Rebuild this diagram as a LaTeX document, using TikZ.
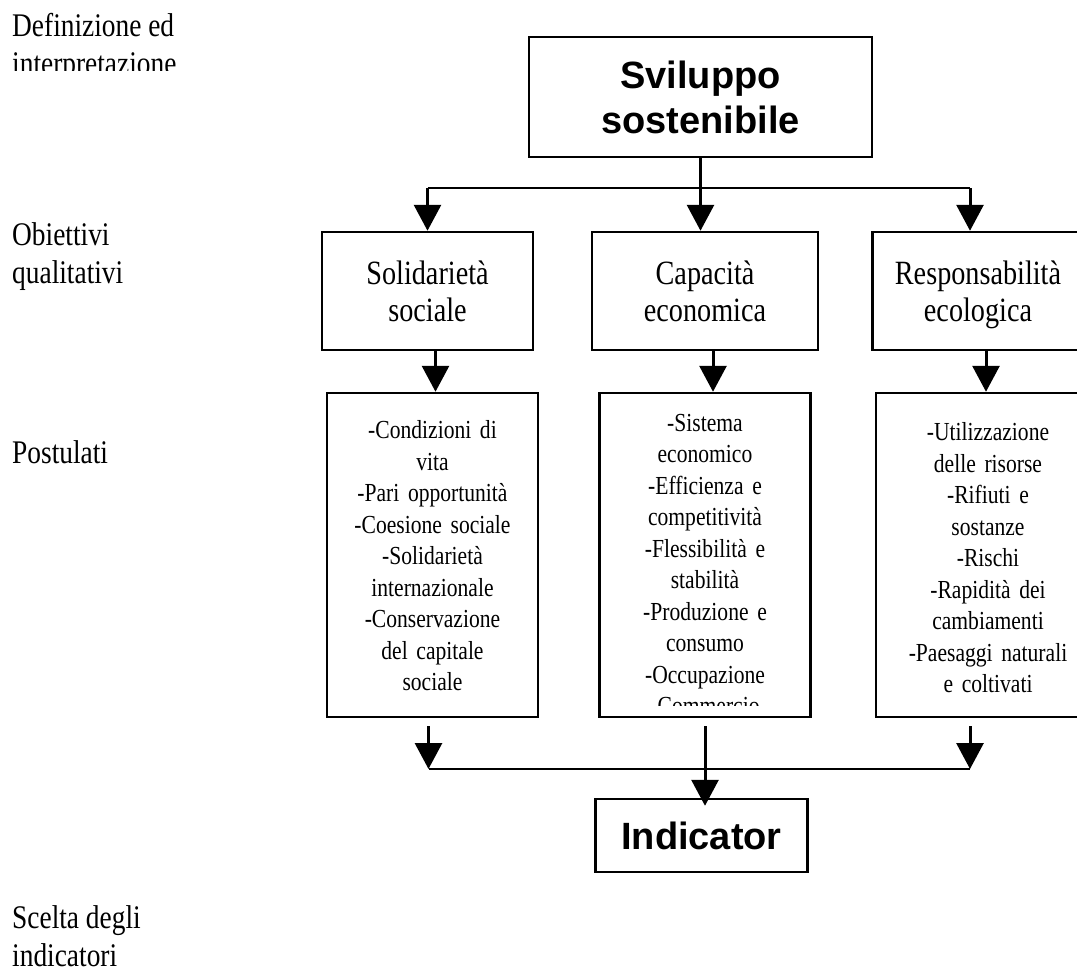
\documentclass[tikz,border=0pt]{standalone}
\usepackage{fontspec}
\setmainfont{Liberation Serif}[FakeStretch=0.83]
\setsansfont{Liberation Sans}
\usetikzlibrary{arrows.meta,positioning}

\begin{document}
\begin{tikzpicture}[x=1pt,y=-1pt,on grid,>={Triangle[width=27pt,length=26pt]},
   headbox/.style={draw,line width=2.5pt,inner sep=0pt,align=center,font=\sffamily\bfseries\fontsize{38}{45}\selectfont},
   goalbox/.style={draw,line width=2.5pt,minimum width=211pt,minimum height=118pt,text width=205pt,align=center,inner sep=0pt,font=\fontsize{34}{37}\selectfont},
   postbox/.style={draw,line width=2.5pt,minimum width=211pt,minimum height=324pt,inner sep=0pt},
   posttext/.style={anchor=north,text width=205pt,align=center,inner sep=0pt,font=\fontsize{26}{31.5}\selectfont},
   level/.style={anchor=north west,align=left,inner sep=0pt,font=\fontsize{33}{38}\selectfont},
   link/.style={line width=3pt},
   bar/.style={line width=2.5pt}]
   \useasboundingbox (0,0) rectangle (1077,969);
   \clip (0,0) rectangle (1077,969);

   % levels on the left
   \begin{scope}
     \clip (0,0) rectangle (400,70);
     \node [level] (defin) at (12,13.5) {Definizione ed\\interpretazione};
   \end{scope}
   \node [level] (obiett) at (12,222.5) {Obiettivi\\qualitativi};
   \node [level] (postul) at (12,440) {Postulati};
   \node [level] (scelta) at (12,905.5) {Scelta degli\\indicatori};

   % boxes
   \node [headbox,minimum width=343pt,minimum height=120pt] (sviluppo) at (700.5,97) {Sviluppo\\sostenibile};
   \node [goalbox,minimum width=226pt] (capacita) [below=194pt of sviluppo,xshift=4.5pt] {Capacità\\economica};
   \node [goalbox] (solidarieta) [left=277.5pt of capacita] {Solidarietà\\sociale};
   \node [goalbox] (responsab) [right=273pt of capacita] {Responsabilità\\\smash{ecologica}};
   \node [postbox] (ecopost) [below=264pt of capacita] {};
   \node [postbox] (socpost) [below=264pt of solidarieta,xshift=5pt] {};
   \node [postbox,minimum width=224pt] (ecolpost) [below=264pt of responsab,xshift=10pt] {};
   \node [headbox,minimum width=212pt,minimum height=73pt] (indicator) [below=280.5pt of ecopost,xshift=-3.5pt] {Indicator};

   % postulati
   \node [posttext] (soctext) at ([yshift=-29pt]socpost.north) {-Condizioni di\\vita\\-Pari opportunità\\-Coesione sociale\\-Solidarietà\\internazionale\\-Conservazione\\del capitale\\sociale};
   \begin{scope}
     \clip (ecopost.north west) rectangle ([yshift=13pt]ecopost.south east);
     \node [posttext] (ecotext) at ([yshift=-22pt]ecopost.north) {-Sistema\\economico\\-Efficienza e\\competitività\\-Flessibilità e\\stabilità\\-Produzione e\\consumo\\-Occupazione\\-Commercio};
   \end{scope}
   \node [posttext,text width=218pt] (ecoltext) at ([yshift=-31pt]ecolpost.north) {-Utilizzazione\\delle risorse\\-Rifiuti e\\sostanze\\-Rischi\\-Rapidità dei\\cambiamenti\\-Paesaggi naturali\\e coltivati};

   % connectors
   \coordinate (topbar) at (700.5,188);
   \coordinate (botbar) at (703,769);
   \draw [link,->] (sviluppo) -- (sviluppo |- capacita.north);
   \draw [bar] (solidarieta |- topbar) -- ([xshift=-8pt]responsab.north |- topbar);
   \draw [link,->] (solidarieta |- topbar) -- (solidarieta);
   \draw [link,->] ([xshift=-8pt]responsab.north |- topbar) -- ([xshift=-8pt]responsab.north);
   \foreach \a/\b in {solidarieta/socpost,capacita/ecopost,responsab/ecolpost}
     \draw [link,->] ([xshift=8pt]\a.south) -- ([xshift=8pt]\a.south |- \b.north);
   \draw [link,->] ([xshift=-4pt,yshift=-8pt]socpost.south) -- ([xshift=-4pt]socpost.south |- botbar);
   \draw [link,->] ([yshift=-8pt]ecopost.south) -- ([yshift=-8pt]ecopost.south |- indicator.north);
   \draw [link,->] ([xshift=-18pt,yshift=-8pt]ecolpost.south) -- ([xshift=-18pt]ecolpost.south |- botbar);
   \draw [bar] ([xshift=-4pt]socpost.south |- botbar) -- ([xshift=-18pt]ecolpost.south |- botbar);
\end{tikzpicture}
\end{document}
